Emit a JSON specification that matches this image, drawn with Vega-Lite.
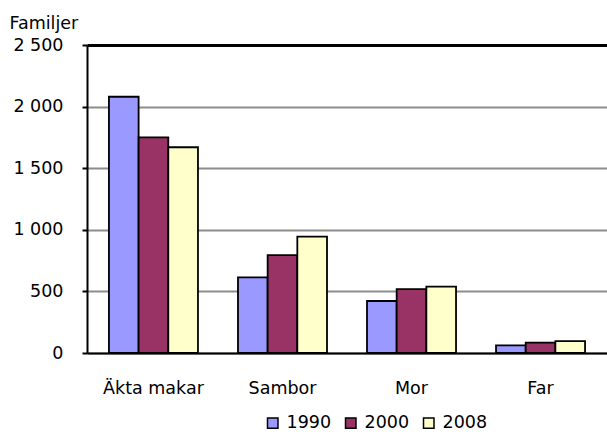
{
  "$schema": "https://vega.github.io/schema/vega-lite/v6.json",
  "autosize": {"type": "none"},
  "width": 520,
  "height": 308,
  "padding": {"left": 87, "top": 45, "right": 0, "bottom": 79},
  "background": "white",
  "config": {
    "font": "DejaVu Sans",
    "view": {"stroke": null}
  },
  "data": {
    "values": [
      {"kategori": "Äkta makar", "år": "1990", "familjer": 2080},
      {"kategori": "Äkta makar", "år": "2000", "familjer": 1751},
      {"kategori": "Äkta makar", "år": "2008", "familjer": 1670},
      {"kategori": "Sambor", "år": "1990", "familjer": 614},
      {"kategori": "Sambor", "år": "2000", "familjer": 795},
      {"kategori": "Sambor", "år": "2008", "familjer": 944},
      {"kategori": "Mor", "år": "1990", "familjer": 422},
      {"kategori": "Mor", "år": "2000", "familjer": 519},
      {"kategori": "Mor", "år": "2008", "familjer": 538},
      {"kategori": "Far", "år": "1990", "familjer": 62},
      {"kategori": "Far", "år": "2000", "familjer": 84},
      {"kategori": "Far", "år": "2008", "familjer": 97}
    ]
  },
  "mark": {"type": "bar", "stroke": "black", "strokeWidth": 1.8},
  "encoding": {
    "x": {
      "field": "kategori",
      "type": "nominal",
      "sort": ["Äkta makar", "Sambor", "Mor", "Far"],
      "scale": {"paddingInner": 0.31, "paddingOuter": 0.17},
      "axis": {
        "title": null,
        "labelAngle": 0,
        "labelFontSize": 17.5,
        "labelColor": "black",
        "labelPadding": 26,
        "ticks": false,
        "domainColor": "black",
        "domainWidth": 2
      }
    },
    "xOffset": {"field": "år", "type": "nominal", "scale": {"paddingInner": 0}},
    "y": {
      "field": "familjer",
      "type": "quantitative",
      "scale": {"domain": [0, 2500], "nice": false},
      "axis": {
        "values": [0, 500, 1000, 1500, 2000, 2500],
        "labelExpr": "replace(format(datum.value, ','), ',', ' ')",
        "labelFontSize": 17.5,
        "labelColor": "black",
        "labelPadding": 19,
        "tickSize": 5,
        "tickColor": "black",
        "tickWidth": 2,
        "domainColor": "black",
        "domainWidth": 2,
        "gridColor": {"condition": {"test": "datum.value === 2500", "value": "black"}, "value": "#8c8c8c"},
        "gridWidth": {"condition": {"test": "datum.value === 2500", "value": 3}, "value": 2},
        "gridOpacity": 1,
        "title": "Familjer",
        "titleAngle": 0,
        "titleAlign": "left",
        "titleBaseline": "alphabetic",
        "titleX": -78,
        "titleY": -17,
        "titleFontSize": 17.5,
        "titleFontWeight": "normal",
        "titleColor": "black"
      }
    },
    "color": {
      "field": "år",
      "type": "nominal",
      "scale": {"domain": ["1990", "2000", "2008"], "range": ["#9999FF", "#993366", "#FFFFCC"]},
      "legend": {
        "title": null,
        "orient": "none",
        "direction": "horizontal",
        "legendX": 177,
        "legendY": 369,
        "symbolType": "square",
        "symbolSize": 110,
        "symbolStrokeColor": "black",
        "symbolStrokeWidth": 1.5,
        "symbolOpacity": 1,
        "labelFontSize": 17.5,
        "labelColor": "black",
        "labelOffset": 5,
        "columnPadding": 10
      }
    }
  }
}
